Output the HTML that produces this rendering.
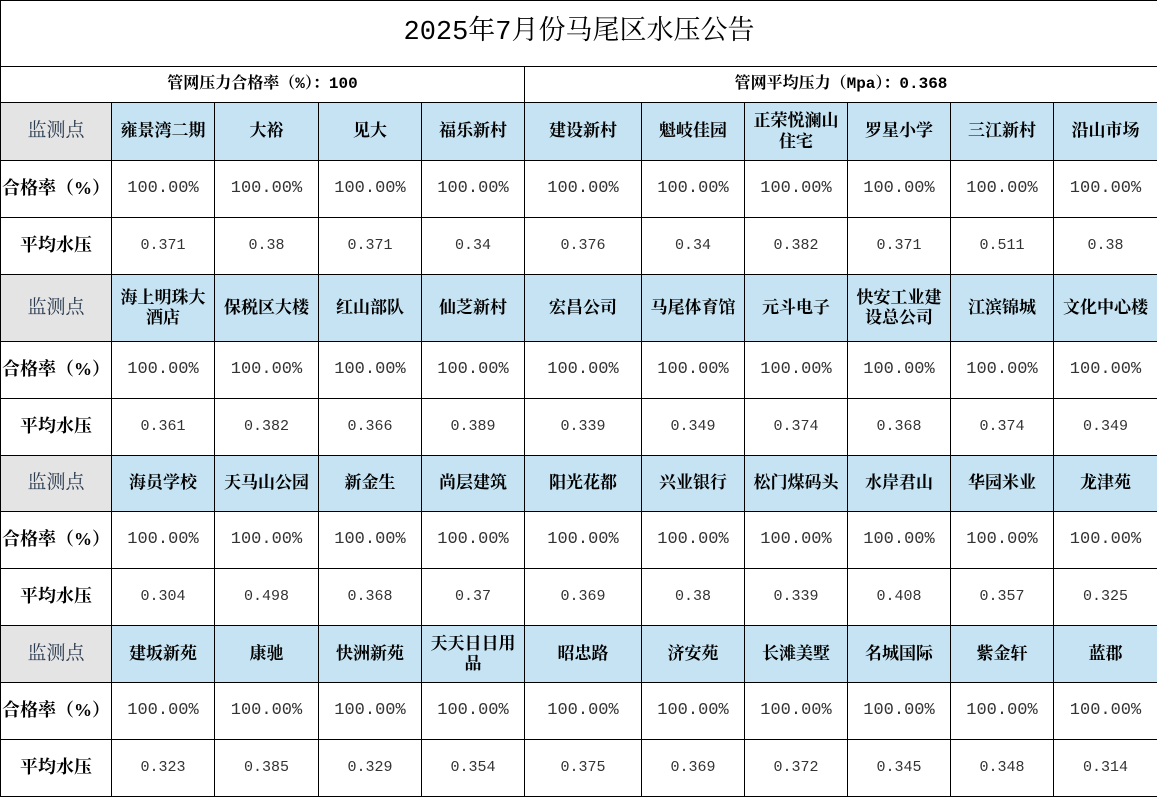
<!DOCTYPE html>
<html><head><meta charset="utf-8"><style>
body{margin:0;background:#fff;}
table{border-collapse:collapse;table-layout:fixed;width:1157px;font-family:"Liberation Serif","Noto Serif CJK SC",serif;}
td{border:1px solid #000;text-align:center;padding:0;overflow:hidden;line-height:1.2;}
.t{font-size:27px;height:65px;font-family:"Liberation Mono","Noto Serif CJK SC",serif;}
.s{font-weight:bold;font-size:16px;height:35px;font-family:"Liberation Mono","Noto Serif CJK SC",serif;}
.h td{background:#c5e3f2;font-weight:bold;font-size:17px;padding:0 6px;}
.h td.l{background:#e4e4e4;font-weight:normal;color:#2a3b4f;font-size:19px;padding:0;}
.r td{font-size:17px;color:#333;font-family:"Liberation Mono","Noto Serif CJK SC",monospace;}
.r td.l{font-weight:bold;color:#000;font-size:18px;font-family:"Liberation Serif","Noto Serif CJK SC",serif;}
.v td{font-size:15px;color:#333;font-family:"Liberation Mono","Noto Serif CJK SC",monospace;}
.v td.l{font-weight:bold;color:#000;font-size:18px;font-family:"Liberation Serif","Noto Serif CJK SC",serif;}
</style></head><body>
<table>
<colgroup><col style="width:111px"><col style="width:103px"><col style="width:104px"><col style="width:103px"><col style="width:103px"><col style="width:117px"><col style="width:103px"><col style="width:103px"><col style="width:103px"><col style="width:103px"><col style="width:104px"></colgroup>
<tr><td class="t" colspan="11">2025年7月份马尾区水压公告</td></tr>
<tr><td class="s" colspan="5">管网压力合格率（%）：100</td><td class="s" colspan="6">管网平均压力（Mpa）：0.368</td></tr>
<tr class="h" style="height:58px"><td class="l">监测点</td><td>雍景湾二期</td><td>大裕</td><td>见大</td><td>福乐新村</td><td>建设新村</td><td>魁岐佳园</td><td>正荣悦澜山住宅</td><td>罗星小学</td><td>三江新村</td><td>沿山市场</td></tr>
<tr class="r" style="height:57px"><td class="l">合格率（%）</td><td>100.00%</td><td>100.00%</td><td>100.00%</td><td>100.00%</td><td>100.00%</td><td>100.00%</td><td>100.00%</td><td>100.00%</td><td>100.00%</td><td>100.00%</td></tr>
<tr class="v" style="height:57px"><td class="l">平均水压</td><td>0.371</td><td>0.38</td><td>0.371</td><td>0.34</td><td>0.376</td><td>0.34</td><td>0.382</td><td>0.371</td><td>0.511</td><td>0.38</td></tr>
<tr class="h" style="height:67px"><td class="l">监测点</td><td>海上明珠大酒店</td><td>保税区大楼</td><td>红山部队</td><td>仙芝新村</td><td>宏昌公司</td><td>马尾体育馆</td><td>元斗电子</td><td>快安工业建设总公司</td><td>江滨锦城</td><td>文化中心楼</td></tr>
<tr class="r" style="height:57px"><td class="l">合格率（%）</td><td>100.00%</td><td>100.00%</td><td>100.00%</td><td>100.00%</td><td>100.00%</td><td>100.00%</td><td>100.00%</td><td>100.00%</td><td>100.00%</td><td>100.00%</td></tr>
<tr class="v" style="height:57px"><td class="l">平均水压</td><td>0.361</td><td>0.382</td><td>0.366</td><td>0.389</td><td>0.339</td><td>0.349</td><td>0.374</td><td>0.368</td><td>0.374</td><td>0.349</td></tr>
<tr class="h" style="height:56px"><td class="l">监测点</td><td>海员学校</td><td>天马山公园</td><td>新金生</td><td>尚层建筑</td><td>阳光花都</td><td>兴业银行</td><td>松门煤码头</td><td>水岸君山</td><td>华园米业</td><td>龙津苑</td></tr>
<tr class="r" style="height:57px"><td class="l">合格率（%）</td><td>100.00%</td><td>100.00%</td><td>100.00%</td><td>100.00%</td><td>100.00%</td><td>100.00%</td><td>100.00%</td><td>100.00%</td><td>100.00%</td><td>100.00%</td></tr>
<tr class="v" style="height:57px"><td class="l">平均水压</td><td>0.304</td><td>0.498</td><td>0.368</td><td>0.37</td><td>0.369</td><td>0.38</td><td>0.339</td><td>0.408</td><td>0.357</td><td>0.325</td></tr>
<tr class="h" style="height:57px"><td class="l">监测点</td><td>建坂新苑</td><td>康驰</td><td>快洲新苑</td><td>天天日日用品</td><td>昭忠路</td><td>济安苑</td><td>长滩美墅</td><td>名城国际</td><td>紫金轩</td><td>蓝郡</td></tr>
<tr class="r" style="height:57px"><td class="l">合格率（%）</td><td>100.00%</td><td>100.00%</td><td>100.00%</td><td>100.00%</td><td>100.00%</td><td>100.00%</td><td>100.00%</td><td>100.00%</td><td>100.00%</td><td>100.00%</td></tr>
<tr class="v" style="height:57px"><td class="l">平均水压</td><td>0.323</td><td>0.385</td><td>0.329</td><td>0.354</td><td>0.375</td><td>0.369</td><td>0.372</td><td>0.345</td><td>0.348</td><td>0.314</td></tr>
</table>
</body></html>
